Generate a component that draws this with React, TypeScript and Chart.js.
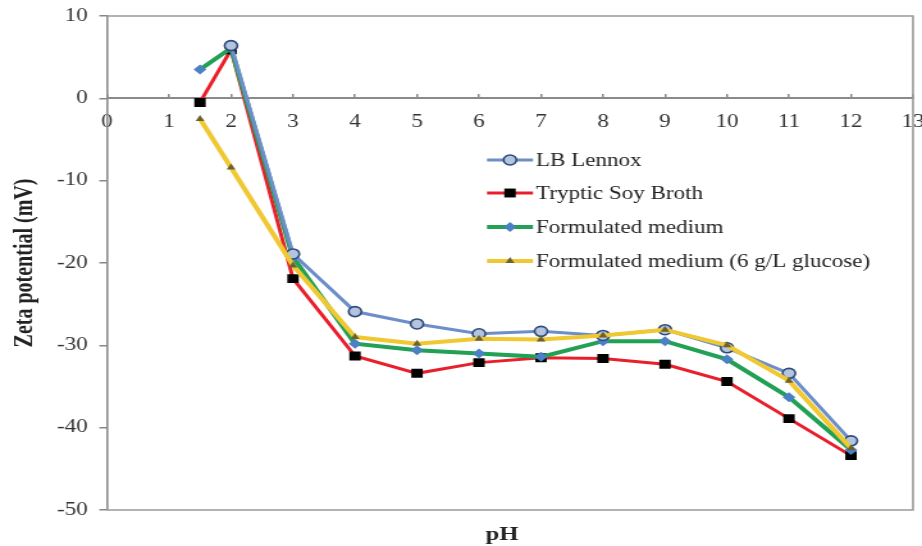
import React, { useEffect, useRef } from 'react';
import { Chart, registerables } from 'chart.js';

Chart.register(...registerables);

// ---- data ----
const PH = [1.5, 2, 3, 4, 5, 6, 7, 8, 9, 10, 11, 12];
const LB_LENNOX = [null, 6.4, -18.9, -25.9, -27.4, -28.6, -28.3, -28.8, -28.1, -30.3, -33.4, -41.6];
const TRYPTIC_SOY = [-0.5, 5.9, -21.9, -31.3, -33.4, -32.1, -31.5, -31.6, -32.3, -34.4, -38.9, -43.4];
const FORMULATED = [3.5, 6.1, -19.3, -29.8, -30.6, -31.0, -31.4, -29.5, -29.5, -31.7, -36.3, -42.7];
const FORMULATED_GLUCOSE = [-2.5, -8.4, -20.3, -29.0, -29.8, -29.2, -29.3, -28.8, -28.1, -30.0, -34.3, -42.5];

const SERIES_LABELS = [
  'LB Lennox',
  'Tryptic Soy Broth',
  'Formulated medium',
  'Formulated medium (6 g/L glucose)',
];
const X_MIN = 0;
const X_MAX = 13;
const Y_MIN = -50;
const Y_MAX = 10;
const Y_TITLE = 'Zeta potential (mV)';
const X_TITLE = 'pH';

// ---- layout (bitmap is stretched horizontally like the reference) ----
const PAGE_W = 922;
const PAGE_H = 546;
const BMP_W = 720;
const SX = PAGE_W / BMP_W;
const FONT = '"Liberation Serif", "Times New Roman", serif';

const toPoints = (ys: (number | null)[]) => PH.map((x, i) => ({ x, y: ys[i] }));

function drawMarker(ctx: CanvasRenderingContext2D, style: string, x: number, y: number, r: number, fill: string, stroke: string, bw: number) {
  ctx.save();
  ctx.fillStyle = fill;
  ctx.strokeStyle = stroke;
  ctx.lineWidth = bw;
  ctx.beginPath();
  if (style === 'circle') {
    ctx.arc(x, y, r, 0, Math.PI * 2);
  } else if (style === 'rect') {
    const s = r * Math.SQRT1_2;
    ctx.rect(x - s, y - s, 2 * s, 2 * s);
  } else if (style === 'rectRot') {
    ctx.moveTo(x, y - r);
    ctx.lineTo(x + r, y);
    ctx.lineTo(x, y + r);
    ctx.lineTo(x - r, y);
    ctx.closePath();
  } else if (style === 'triangle') {
    ctx.moveTo(x, y - r);
    ctx.lineTo(x + r * 0.866, y + r * 0.5);
    ctx.lineTo(x - r * 0.866, y + r * 0.5);
    ctx.closePath();
  }
  ctx.fill();
  if (bw > 0) ctx.stroke();
  ctx.restore();
}

const decoPlugin = {
  id: 'deco',
  beforeDatasetsDraw(chart: any) {
    const { ctx, chartArea: a } = chart;
    ctx.save();
    ctx.strokeStyle = '#9a9a9a';
    ctx.lineWidth = 1.6;
    ctx.beginPath();
    ctx.moveTo(a.left, a.top);
    ctx.lineTo(a.right, a.top);
    ctx.lineTo(a.right, a.bottom);
    ctx.lineTo(a.left, a.bottom);
    ctx.stroke();
    ctx.restore();
  },
  afterDraw(chart: any) {
    const { ctx } = chart;
    // legend
    const rows = [160, 193, 227, 261];
    const lx0 = 487 / SX;
    const lx1 = 533 / SX;
    const tx = 536 / SX;
    chart.data.datasets.forEach((ds: any, i: number) => {
      const y = rows[i];
      ctx.save();
      ctx.strokeStyle = ds.borderColor;
      ctx.lineWidth = ds.borderWidth;
      ctx.beginPath();
      ctx.moveTo(lx0, y);
      ctx.lineTo(lx1, y);
      ctx.stroke();
      ctx.restore();
      drawMarker(ctx, ds.pointStyle, (lx0 + lx1) / 2, y, ds.pointRadius, ds.pointBackgroundColor, ds.pointBorderColor, ds.pointBorderWidth);
      ctx.save();
      ctx.fillStyle = '#222';
      ctx.font = `18px ${FONT}`;
      ctx.textAlign = 'left';
      ctx.textBaseline = 'middle';
      ctx.fillText(ds.label, tx, y + 1);
      ctx.restore();
    });
    // axis titles
    ctx.save();
    ctx.fillStyle = '#222';
    ctx.font = `bold 19px ${FONT}`;
    ctx.textAlign = 'center';
    ctx.textBaseline = 'alphabetic';
    ctx.fillText(X_TITLE, 502 / SX, 540);
    ctx.translate(26 / SX, 263);
    ctx.rotate(-Math.PI / 2);
    ctx.font = `bold 20px ${FONT}`;
    ctx.textBaseline = 'middle';
    ctx.fillText(Y_TITLE, 0, 0);
    ctx.restore();
  },
};

export default function App() {
  const ref = useRef<HTMLCanvasElement>(null);
  useEffect(() => {
    document.body.style.margin = '0';
    const canvas = ref.current;
    if (!canvas) return;
    const chart = new Chart(canvas, {
      type: 'line',
      data: {
        datasets: [
          {
            label: SERIES_LABELS[0],
            data: toPoints(LB_LENNOX),
            borderColor: '#6d8ec9',
            borderWidth: 3,
            pointStyle: 'circle',
            pointRadius: 5,
            pointBackgroundColor: '#b4c4e0',
            pointBorderColor: '#2d4a78',
            pointBorderWidth: 1.6,
            order: 1,
          },
          {
            label: SERIES_LABELS[1],
            data: toPoints(TRYPTIC_SOY),
            borderColor: '#e8202c',
            borderWidth: 3,
            pointStyle: 'rect',
            pointRadius: 6.3,
            pointBackgroundColor: '#000000',
            pointBorderColor: '#000000',
            pointBorderWidth: 0,
            order: 3,
          },
          {
            label: SERIES_LABELS[2],
            data: toPoints(FORMULATED),
            borderColor: '#22a055',
            borderWidth: 4,
            pointStyle: 'rectRot',
            pointRadius: 5,
            pointBackgroundColor: '#4a80c4',
            pointBorderColor: '#4a80c4',
            pointBorderWidth: 0,
            order: 2,
          },
          {
            label: SERIES_LABELS[3],
            data: toPoints(FORMULATED_GLUCOSE),
            borderColor: '#f0c832',
            borderWidth: 4,
            pointStyle: 'triangle',
            pointRadius: 4,
            pointBackgroundColor: '#6b6230',
            pointBorderColor: '#6b6230',
            pointBorderWidth: 0,
            order: 0,
          },
        ],
      },
      options: {
        animation: false,
        responsive: false,
        devicePixelRatio: 1,
        parsing: false as any,
        layout: {
          autoPadding: false,
          padding: { left: 0, top: 16, right: 922 / SX - 913 / SX, bottom: 36 },
        },
        plugins: {
          legend: { display: false },
          tooltip: { enabled: false },
          title: { display: false },
        },
        scales: {
          x: {
            type: 'linear',
            position: { y: 0 } as any,
            min: X_MIN,
            max: X_MAX,
            afterFit: (scale: any) => {
              scale.paddingLeft = 0;
              scale.paddingRight = 0;
              scale.paddingTop = 0;
              scale.paddingBottom = 0;
            },
            ticks: {
              stepSize: 1,
              color: '#333',
              font: { family: FONT, size: 18 },
              padding: 18,
              maxRotation: 0,
              autoSkip: false,
            },
            grid: {
              display: true,
              drawOnChartArea: false,
              drawTicks: true,
              tickLength: -5,
              color: '#888',
              lineWidth: 1.5,
            },
            border: { display: true, color: '#8a8a8a', width: 2 },
          },
          y: {
            type: 'linear',
            position: 'left',
            min: Y_MIN,
            max: Y_MAX,
            afterFit: (scale: any) => {
              scale.width = 107 / SX;
              scale.paddingTop = 0;
              scale.paddingBottom = 0;
            },
            ticks: {
              stepSize: 10,
              color: '#333',
              font: { family: FONT, size: 18 },
              padding: 9,
            },
            grid: {
              display: true,
              drawOnChartArea: false,
              drawTicks: true,
              tickLength: 6,
              color: '#888',
              lineWidth: 1.5,
            },
            border: { display: true, color: '#8a8a8a', width: 1.6 },
          },
        },
      },
      plugins: [decoPlugin],
    });
    return () => chart.destroy();
  }, []);
  return (
    <canvas
      ref={ref}
      width={BMP_W}
      height={PAGE_H}
      style={{ width: `${PAGE_W}px`, height: `${PAGE_H}px`, display: 'block' }}
    />
  );
}
